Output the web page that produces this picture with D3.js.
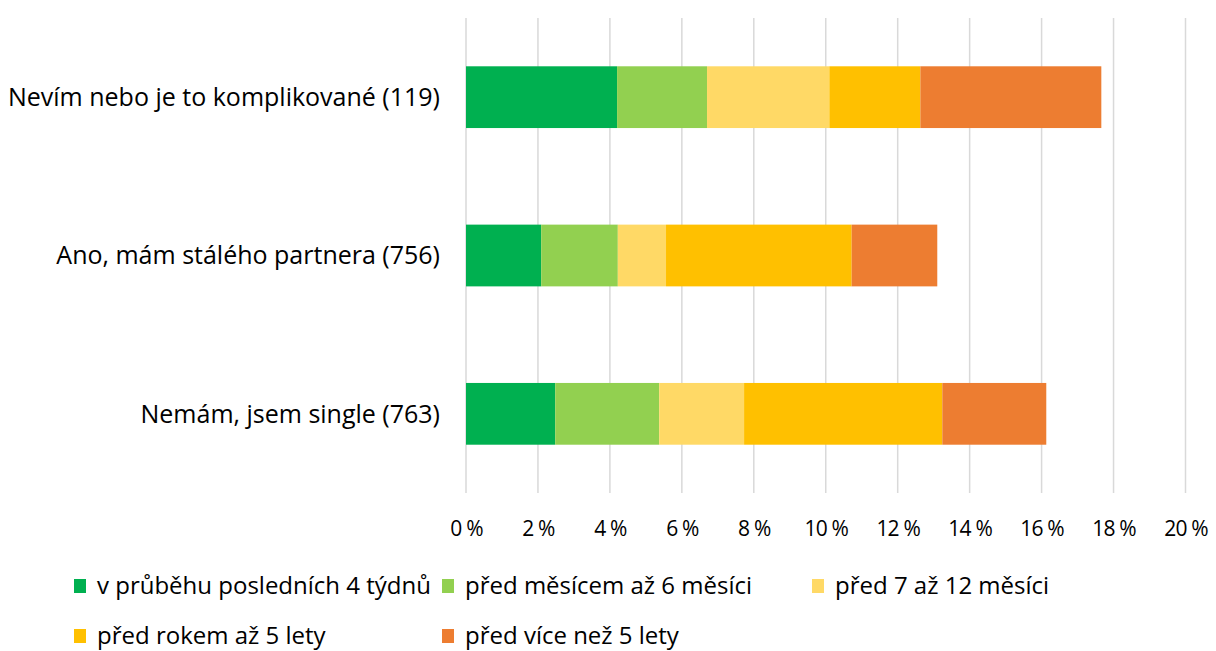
<!DOCTYPE html>
<html>
<head>
<meta charset="utf-8">
<script src="https://cdn.jsdelivr.net/npm/d3@7"></script>
<style>
  body { margin: 0; background: #fff; }
  text { font-family: "Open Sans", Carlito, Calibri, sans-serif; fill: #000; }
</style>
</head>
<body>
<div id="chart"></div>
<script>
// categories, top to bottom
const categories = [
  "Nevím nebo je to komplikované (119)",
  "Ano, mám stálého partnera (756)",
  "Nemám, jsem single (763)"
];

// series (stack order left to right)
const seriesNames = [
  "v průběhu posledních 4 týdnů",
  "před měsícem až 6 měsíci",
  "před 7 až 12 měsíci",
  "před rokem až 5 lety",
  "před více než 5 lety"
];
const seriesColors = ["#00b050", "#92d050", "#ffd966", "#ffc000", "#ed7d31"];

// values in %, one array per series, in category order
const last4Weeks = [4.2, 2.09, 2.48];
const month6 = [2.5, 2.13, 2.89];
const month7to12 = [3.4, 1.34, 2.36];
const year1to5 = [2.53, 5.16, 5.51];
const over5 = [5.03, 2.38, 2.89];

const tickValues = [0, 2, 4, 6, 8, 10, 12, 14, 16, 18, 20];

const width = 1216;
const height = 651;

const rows = categories.map((c, i) => ({
  cat: c,
  s0: last4Weeks[i],
  s1: month6[i],
  s2: month7to12[i],
  s3: year1to5[i],
  s4: over5[i]
}));
const keys = ["s0", "s1", "s2", "s3", "s4"];

const svg = d3.select("#chart")
  .append("svg")
  .attr("width", width)
  .attr("height", height);

const x = d3.scaleLinear().domain([0, 20]).range([466, 1185.5]);
const y = d3.scaleBand().domain(categories).range([18, 493]).paddingInner(0.61).paddingOuter(0.305);

// gridlines
svg.append("g")
  .selectAll("line")
  .data(tickValues)
  .join("line")
  .attr("x1", (d) => x(d))
  .attr("x2", (d) => x(d))
  .attr("y1", 18)
  .attr("y2", 493)
  .attr("stroke", "#d9d9d9")
  .attr("stroke-width", 1.5);

// stacked bars
const stacked = d3.stack().keys(keys)(rows);
svg.append("g")
  .selectAll("g")
  .data(stacked)
  .join("g")
  .attr("fill", (d, i) => seriesColors[i])
  .selectAll("rect")
  .data((d) => d)
  .join("rect")
  .attr("x", (d) => x(d[0]))
  .attr("width", (d) => x(d[1]) - x(d[0]))
  .attr("y", (d) => y(d.data.cat))
  .attr("height", y.bandwidth());

// category labels
svg.append("g")
  .selectAll("text")
  .data(categories)
  .join("text")
  .attr("x", 440)
  .attr("y", (d) => y(d) + y.bandwidth() / 2)
  .attr("dy", "0.35em")
  .attr("text-anchor", "end")
  .attr("font-size", 25)
  .text((d) => d);

// x axis tick labels
const xAxis = d3.axisBottom(x)
  .tickValues(tickValues)
  .tickSize(0)
  .tickPadding(0)
  .tickFormat((d) => d + " %");
svg.append("g")
  .attr("transform", "translate(0,521)")
  .call(xAxis)
  .call((g) => g.select(".domain").remove())
  .call((g) => g.selectAll("text")
    .attr("font-size", 21)
    .attr("font-family", null)
    .attr("letter-spacing", -0.8)
    .attr("fill", "#000"));

// legend
const legendPos = [
  [74, 586], [442, 586], [812, 586],
  [74, 636], [442, 636]
];
const legend = svg.append("g")
  .selectAll("g")
  .data(seriesNames)
  .join("g")
  .attr("transform", (d, i) => `translate(${legendPos[i][0]},${legendPos[i][1]})`);
legend.append("rect")
  .attr("x", 0)
  .attr("y", -7)
  .attr("width", 12)
  .attr("height", 14)
  .attr("fill", (d, i) => seriesColors[i]);
legend.append("text")
  .attr("x", 23)
  .attr("y", 0)
  .attr("dy", "0.35em")
  .attr("font-size", 24)
  .text((d) => d);
</script>
</body>
</html>
